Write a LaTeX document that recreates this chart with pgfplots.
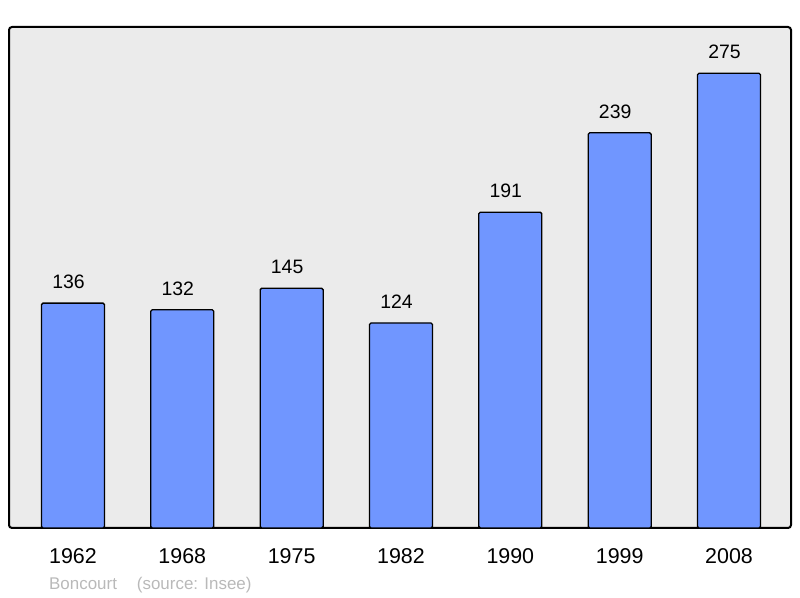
\documentclass[border=0pt]{standalone}
\usepackage{fontspec}
\setmainfont{Liberation Sans}
\usepackage{pgfplots}
\pgfplotsset{compat=1.18}
\definecolor{barblue}{RGB}{112,150,255}
\definecolor{bggray}{RGB}{235,235,235}
\definecolor{srcgray}{RGB}{185,185,185}
\begin{document}
\begin{tikzpicture}[x=1bp,y=1bp]
\useasboundingbox (0,0) rectangle (800,598);
\begin{axis}[
  at={(9bp,70bp)}, anchor=south west,
  scale only axis, width=782bp, height=501bp,
  xmin=-0.585, xmax=6.567, ymin=0, ymax=303,
  axis background/.style={fill=bggray},
  axis line style={line width=2bp, rounded corners=3bp},
  hide y axis=false, ytick=\empty,
  xtick={0,1,2,3,4,5,6},
  xticklabels={1962,1968,1975,1982,1990,1999,2008},
  major tick length=0pt,
  xticklabel style={anchor=base, inner sep=0pt, yshift=-36bp, font=\fontsize{21.5}{24}\selectfont},
  /pgf/number format/assume math mode=true,
  ybar, bar width=63bp,
  nodes near coords,
  nodes near coords style={anchor=base, inner sep=0pt, yshift=14.7bp, xshift=-4.5bp, font=\fontsize{19.5}{22}\selectfont, black},
  clip=false,
]
\addplot[fill=barblue, draw=black, line width=1.3bp, rounded corners=1.5bp] coordinates {
(0,136) (1,132) (2,145) (3,124) (4,191) (5,239) (6,275)};
\end{axis}
\node[anchor=base west, inner sep=0pt, text=srcgray, font=\fontsize{17}{20}\selectfont] at (49bp,8bp) {Boncourt\hspace{20bp}(source: Insee)};
\end{tikzpicture}
\end{document}
